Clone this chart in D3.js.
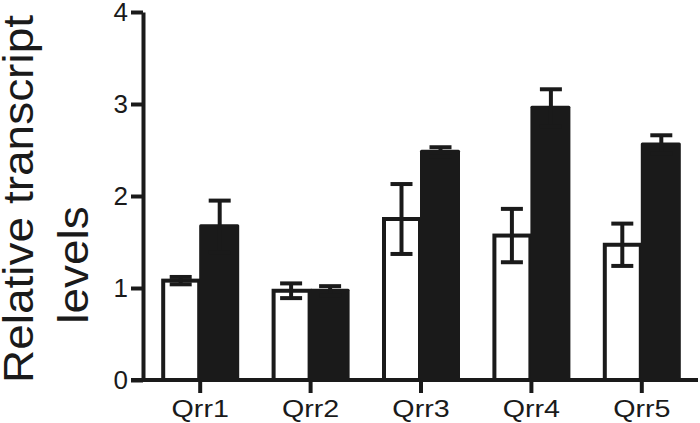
<!DOCTYPE html>
<html>
<head>
<meta charset="utf-8">
<script src="https://cdn.jsdelivr.net/npm/d3@7"></script>
<style>
  html, body { margin: 0; padding: 0; background: #fff; }
  svg { display: block; font-family: "Liberation Sans", Arial, sans-serif; }
</style>
</head>
<body>
<div id="chart"></div>
<script>
// data
const categories = ["Qrr1", "Qrr2", "Qrr3", "Qrr4", "Qrr5"];
const whiteValues = [1.08, 0.97, 1.75, 1.57, 1.47];
const whiteErrors = [0.04, 0.08, 0.38, 0.29, 0.23];
const blackValues = [1.67, 0.97, 2.48, 2.96, 2.56];
const blackErrors = [0.28, 0.05, 0.05, 0.20, 0.10];
const yTicks = [0, 1, 2, 3, 4];

const width = 700, height = 423;
const ink = "#1a1a1a";
const axisX = 143;
const margin = { top: 12, right: 3, bottom: 43, left: 145 };

const svg = d3.select("#chart")
    .append("svg")
    .attr("width", width)
    .attr("height", height);

const x = d3.scaleBand()
    .domain(categories)
    .range([margin.left, width - margin.right])
    .padding(0);

const y = d3.scaleLinear()
    .domain([0, 4])
    .range([height - margin.bottom, margin.top]);

const barW = 39;

const rows = categories.map((c, i) => ({
    cat: c,
    white: whiteValues[i], whiteErr: whiteErrors[i],
    black: blackValues[i], blackErr: blackErrors[i]
}));

const center = d => x(d.cat) + x.bandwidth() / 2;

const g = svg.append("g");

// white bars (outlined)
g.selectAll("rect.white")
    .data(rows)
    .enter()
    .append("rect")
    .attr("class", "white")
    .attr("x", d => center(d) - barW + 2)
    .attr("width", barW - 3)
    .attr("y", d => y(d.white))
    .attr("height", d => y(0) - y(d.white))
    .attr("fill", "#fff")
    .attr("stroke", ink)
    .attr("stroke-width", 4);

// black bars
g.selectAll("rect.black")
    .data(rows)
    .enter()
    .append("rect")
    .attr("class", "black")
    .attr("x", d => center(d) - 1)
    .attr("width", barW + 1)
    .attr("y", d => y(d.black) - 2)
    .attr("height", d => y(0) - y(d.black) + 2)
    .attr("rx", 1.5)
    .attr("fill", ink);

// error bars (mean +/- error, capped)
function drawErrors(key, errKey, offset) {
    const eg = g.selectAll("g.err-" + key)
        .data(rows)
        .enter()
        .append("g")
        .attr("class", "err-" + key)
        .attr("stroke", ink)
        .attr("stroke-width", 4);
    eg.append("line")
        .attr("x1", d => center(d) + offset)
        .attr("x2", d => center(d) + offset)
        .attr("y1", d => y(d[key] + d[errKey]))
        .attr("y2", d => y(d[key] - d[errKey]));
    eg.append("line")
        .attr("x1", d => center(d) + offset - 11)
        .attr("x2", d => center(d) + offset + 11)
        .attr("y1", d => y(d[key] + d[errKey]))
        .attr("y2", d => y(d[key] + d[errKey]));
    eg.append("line")
        .attr("x1", d => center(d) + offset - 11)
        .attr("x2", d => center(d) + offset + 11)
        .attr("y1", d => y(d[key] - d[errKey]))
        .attr("y2", d => y(d[key] - d[errKey]));
}
drawErrors("white", "whiteErr", -barW / 2);
drawErrors("black", "blackErr", barW / 2);

// Y axis
const yAxis = svg.append("g")
    .attr("transform", `translate(${axisX},0)`)
    .call(d3.axisLeft(y).tickValues(yTicks).tickFormat(d3.format("d"))
        .tickSize(12).tickSizeOuter(0).tickPadding(3));
yAxis.select(".domain").attr("stroke", ink).attr("stroke-width", 4);
yAxis.selectAll(".tick line").attr("stroke", ink).attr("stroke-width", 4);
yAxis.selectAll(".tick text")
    .attr("fill", ink)
    .style("font-size", "26px");

// X axis
const xAxis = svg.append("g")
    .attr("transform", `translate(0,${y(0)})`)
    .call(d3.axisBottom(x).tickSize(13).tickSizeOuter(0).tickPadding(7));
xAxis.select(".domain").remove();
xAxis.append("line")
    .attr("x1", axisX - 12)
    .attr("x2", width - 2)
    .attr("stroke", ink)
    .attr("stroke-width", 4);
xAxis.selectAll(".tick line").attr("stroke", ink).attr("stroke-width", 4);
// labels in the figure are drawn a little wider than the font
xAxis.selectAll(".tick text")
    .attr("fill", ink)
    .style("font-size", "23.5px")
    .attr("transform", "scale(1.22,1)");

// Y label, two lines
const labelLines = ["Relative transcript", "levels"];
const labelPos = [{ x: 33, y: 199 }, { x: 88, y: 265 }];
svg.selectAll("text.ylabel")
    .data(labelLines)
    .enter()
    .append("text")
    .attr("class", "ylabel")
    .attr("transform", (d, i) => `translate(${labelPos[i].x},${labelPos[i].y}) rotate(-90) scale(1,0.94)`)
    .attr("text-anchor", "middle")
    .attr("fill", ink)
    .style("font-size", "46px")
    .text(d => d);
</script>
</body>
</html>
